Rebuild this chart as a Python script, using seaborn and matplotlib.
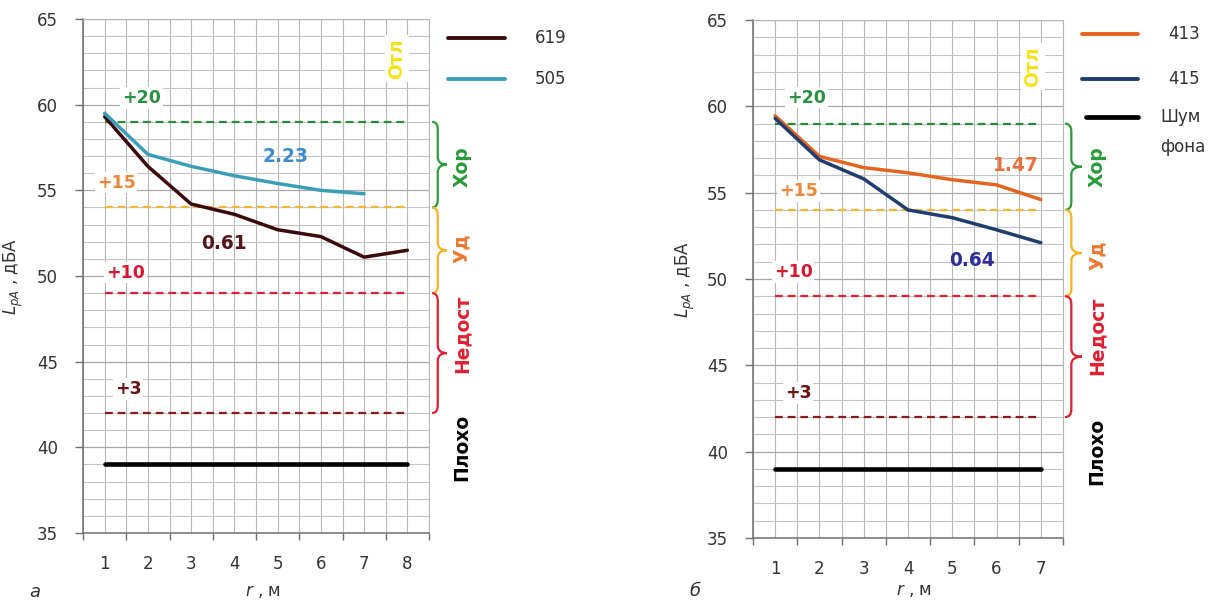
import numpy as np
import pandas as pd
import matplotlib
matplotlib.use("Agg")
import matplotlib.pyplot as plt
import seaborn as sns
from matplotlib.path import Path
from matplotlib.patches import PathPatch
from matplotlib.lines import Line2D
from matplotlib.transforms import blended_transform_factory

# ---------------- data ----------------
r_a = [1, 2, 3, 4, 5, 6, 7, 8]
L_619 = [59.3, 56.4, 54.2, 53.6, 52.7, 52.3, 51.1, 51.5]
r_a_505 = [1, 2, 3, 4, 5, 6, 7]
L_505 = [59.5, 57.1, 56.4, 55.85, 55.4, 55.0, 54.8]

r_b = [1, 2, 3, 4, 5, 6, 7]
L_413 = [59.45, 57.1, 56.45, 56.15, 55.75, 55.45, 54.6]
L_415 = [59.3, 56.9, 55.8, 54.0, 53.55, 52.85, 52.1]

noise_level = 39
threshold_levels = [59, 54, 49, 42]
threshold_labels = ["+20", "+15", "+10", "+3"]

value_labels_a = ["2.23", "0.61"]
value_labels_b = ["1.47", "0.64"]

grade_labels = ["Отл", "Хор", "Уд", "Недост", "Плохо"]
y_ticks = [35, 40, 45, 50, 55, 60, 65]

# ---------------- style ----------------
sns.set_theme(style="white")
plt.rcParams["font.family"] = ["DejaVu Sans"]
plt.rcParams["mathtext.fontset"] = "dejavusans"

W, H = 1213, 602
fig = plt.figure(figsize=(W / 100, H / 100), dpi=100)
fig.patch.set_facecolor("white")

ax_a = fig.add_axes([83 / W, 1 - 533 / H, 346 / W, 514 / H])
ax_b = fig.add_axes([753 / W, 1 - 538 / H, 310 / W, 518 / H])

C_619 = "#3a0a0c"
C_505 = "#3a9fb6"
C_413 = "#e5651e"
C_415 = "#1f3d6e"
thr_line_colors = ["#2a8a3a", "#f3b62e", "#e01f3a", "#8a1a1a"]
thr_text_colors = ["#2a9140", "#f0863a", "#d81830", "#6a1212"]
grade_colors = ["#f2e31a", "#2a9a3a", "#f07830", "#e02030", "#000000"]
brace_colors = ["#2a9a3a", "#f5b325", "#e02030"]
TXT = "#333333"
DASH = (0, (3.5, 2.2))


def style_axes(ax, n, ylab_x, xlab_y):
    ax.set_xlim(0.5, n + 0.5)
    ax.set_ylim(35, 65)
    ax.set_xticks(np.arange(0.5, n + 1, 1.0))
    ax.set_xticklabels([])
    ax.set_xticks(np.arange(1, n + 1), minor=True)
    ax.set_xticklabels([str(i) for i in range(1, n + 1)], minor=True)
    ax.set_yticks(y_ticks)
    ax.set_yticklabels([str(v) for v in y_ticks])
    ax.set_yticks(np.arange(35, 66, 1), minor=True)
    ax.tick_params(axis="x", which="major", length=5, width=1, color="#707070",
                   direction="out", bottom=True)
    ax.tick_params(axis="x", which="minor", length=0, pad=16, labelsize=12,
                   labelcolor=TXT, bottom=True)
    ax.tick_params(axis="y", which="major", length=6, width=1, color="#707070",
                   direction="out", left=True, pad=12, labelsize=12,
                   labelcolor=TXT)
    ax.tick_params(axis="y", which="minor", length=0, left=False)
    ax.grid(True, which="major", axis="y", color="#a8a8a8", lw=0.9)
    ax.grid(True, which="minor", axis="y", color="#c4c4c4", lw=0.8)
    ax.grid(True, which="both", axis="x", color="#b8b8b8", lw=0.8)
    ax.set_axisbelow(True)
    for s in ["left", "bottom"]:
        ax.spines[s].set_color("#707070")
        ax.spines[s].set_linewidth(1.1)
    for s in ["top", "right"]:
        ax.spines[s].set_color("#b8b8b8")
        ax.spines[s].set_linewidth(0.8)
    ax.set_xlabel(r"$r$ , м", fontsize=12, color=TXT)
    ax.set_ylabel(r"$L_{pA}$ , дБА", fontsize=12, color=TXT)
    ax.yaxis.set_label_coords(ylab_x, 0.5)
    ax.xaxis.set_label_coords(0.52, xlab_y)
    ax.set_facecolor("white")


def brace(ax, y_top, y_bot, color, x0, x1):
    tr = blended_transform_factory(ax.transAxes, ax.transData)
    xm = x0 + 0.38 * (x1 - x0)
    yc = (y_top + y_bot) / 2
    r = 0.45
    verts = [(x0, y_top), (xm, y_top), (xm, y_top - r),
             (xm, yc + r),
             (xm, yc), (x1, yc),
             (xm, yc), (xm, yc - r),
             (xm, y_bot + r),
             (xm, y_bot), (x0, y_bot)]
    codes = [Path.MOVETO, Path.CURVE3, Path.CURVE3,
             Path.LINETO,
             Path.CURVE3, Path.CURVE3,
             Path.CURVE3, Path.CURVE3,
             Path.LINETO,
             Path.CURVE3, Path.CURVE3]
    ax.add_patch(PathPatch(Path(verts, codes), transform=tr, fill=False,
                           edgecolor=color, lw=1.6, clip_on=False))


def draw_panel(ax, n, series, thr_pos, val_pos, otl_pos, bx0, bx1, lab_x,
               grade_y, ylab_x, xlab_y):
    cats = list(range(1, n + 1))
    for lvl, col in zip(threshold_levels, thr_line_colors):
        sns.lineplot(x=cats, y=[lvl] * n, ax=ax, color=col, lw=1.6,
                     linestyle=DASH, legend=False)
    sns.lineplot(x=cats, y=[noise_level] * n, ax=ax, color="black", lw=3.3,
                 legend=False)
    for xs, ys, col in series:
        sns.lineplot(x=xs, y=ys, ax=ax, color=col, lw=2.5, legend=False)
    style_axes(ax, n, ylab_x, xlab_y)
    for (tx, ty), lab, col in zip(thr_pos, threshold_labels, thr_text_colors):
        ax.text(tx, ty, lab, color=col, fontsize=12.5, fontweight="bold",
                ha="left", va="center",
                bbox=dict(boxstyle="square,pad=0.1", fc="white", ec="none"))
    for (vx, vy, lab, col) in val_pos:
        ax.text(vx, vy, lab, color=col, fontsize=13.4, fontweight="bold",
                ha="center", va="center")
    ax.text(otl_pos[0], otl_pos[1], grade_labels[0], color=grade_colors[0],
            fontsize=13.5, fontweight="bold", rotation=90, ha="center",
            va="center",
            bbox=dict(boxstyle="square,pad=0.15", fc="white", ec="none"))
    spans = [(59, 54), (54, 49), (49, 42)]
    for (yt, yb), col in zip(spans, brace_colors):
        brace(ax, yt, yb, col, bx0, bx1)
    tr = blended_transform_factory(ax.transAxes, ax.transData)
    for lab, col, gy in zip(grade_labels[1:], grade_colors[1:], grade_y):
        ax.text(lab_x, gy, lab, color=col, fontsize=13.5, fontweight="bold",
                rotation=90, ha="center", va="center", transform=tr,
                clip_on=False)


draw_panel(
    ax_a, 8,
    [(r_a, L_619, C_619), (r_a_505, L_505, C_505)],
    [(1.40, 60.4), (0.82, 55.45), (1.03, 50.2), (1.24, 43.4)],
    [(5.19, 57.0, value_labels_a[0], "#3a8ccc"),
     (3.75, 51.9, value_labels_a[1], "#561518")],
    (7.76, 62.7), 1.009, 1.052, 1.095, [56.4, 51.6, 46.6, 40.0],
    -0.168, -0.095,
)
draw_panel(
    ax_b, 7,
    [(r_b, L_413, C_413), (r_b, L_415, C_415)],
    [(1.27, 60.5), (1.09, 55.1), (0.97, 50.4), (1.22, 43.4)],
    [(6.44, 56.6, value_labels_b[0], "#e8703a"),
     (5.44, 51.1, value_labels_b[1], "#2e2e9a")],
    (6.82, 62.3), 1.006, 1.061, 1.11, [56.5, 51.4, 46.7, 40.0],
    -0.18, -0.083,
)


def px(x, y):
    return x / W, 1 - y / H


def leg_line(x0, x1, y, col, lw):
    (a, b), (c, d) = px(x0, y), px(x1, y)
    fig.add_artist(Line2D([a, c], [b, d], color=col, lw=lw,
                          solid_capstyle="round", transform=fig.transFigure))


leg_line(448, 505, 38, C_619, 2.8)
leg_line(448, 505, 79, C_505, 2.8)
fig.text(*px(535, 38), "619", fontsize=12, va="center", ha="left", color=TXT)
fig.text(*px(535, 79), "505", fontsize=12, va="center", ha="left", color=TXT)

leg_line(1082, 1138, 34, C_413, 2.8)
leg_line(1082, 1138, 79, C_415, 2.8)
leg_line(1086, 1138, 117, "black", 3.4)
fig.text(*px(1168, 34), "413", fontsize=12, va="center", ha="left", color=TXT)
fig.text(*px(1168, 79), "415", fontsize=12, va="center", ha="left", color=TXT)
fig.text(*px(1160, 108), "Шум\nфона", fontsize=12, va="top", ha="left",
         color=TXT, linespacing=1.85)

fig.text(*px(35, 592), "а", fontsize=13, style="italic", ha="center", va="center",
         color=TXT)
fig.text(*px(695, 591), "б", fontsize=13, style="italic", ha="center", va="center",
         color=TXT)

fig.savefig("out.png", dpi=100, facecolor="white")
